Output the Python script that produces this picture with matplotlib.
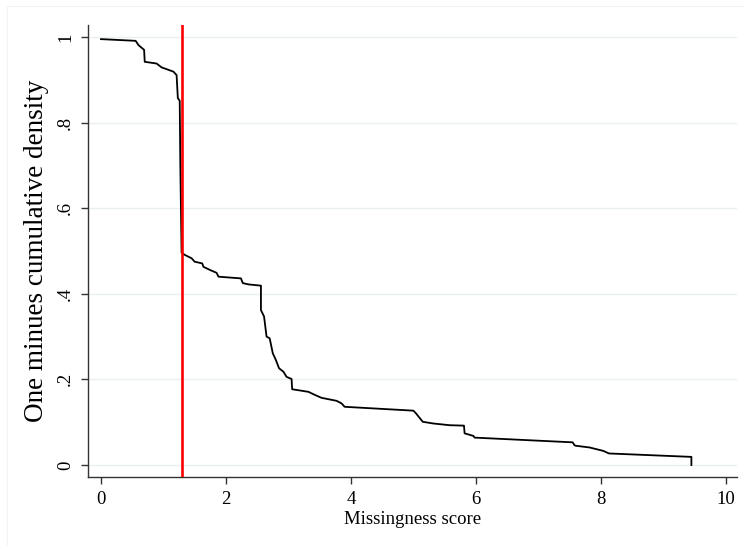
import matplotlib
matplotlib.use("Agg")
import matplotlib.pyplot as plt
from matplotlib.lines import Line2D

# Survival-style curve: one minus the cumulative density of the missingness score
score = [0.00, 0.555, 0.60, 0.69, 0.70, 0.89, 0.97, 1.16, 1.21, 1.23, 1.26, 1.27,
         1.29, 1.34, 1.45, 1.50, 1.62, 1.64, 1.74, 1.85, 1.88, 2.24, 2.27, 2.36,
         2.56, 2.56, 2.61, 2.65, 2.70, 2.75, 2.80, 2.85, 2.92, 2.97, 3.05, 3.06,
         3.32, 3.42, 3.53, 3.77, 3.85, 3.90, 5.00, 5.04, 5.15, 5.32, 5.58, 5.81,
         5.82, 5.96, 5.98, 7.55, 7.58, 7.60, 7.82, 8.04, 8.13, 9.45, 9.45]
one_minus_cdf = [0.995, 0.991, 0.981, 0.970, 0.942, 0.938, 0.929, 0.919, 0.911, 0.857,
                 0.851, 0.700, 0.496, 0.491, 0.483, 0.475, 0.471, 0.463, 0.456, 0.449,
                 0.440, 0.436, 0.425, 0.422, 0.419, 0.362, 0.347, 0.300, 0.296, 0.261,
                 0.245, 0.226, 0.218, 0.206, 0.201, 0.177, 0.171, 0.164, 0.157, 0.150,
                 0.144, 0.136, 0.127, 0.121, 0.101, 0.097, 0.093, 0.092, 0.074, 0.068,
                 0.064, 0.053, 0.046, 0.045, 0.041, 0.033, 0.027, 0.019, 0.0]
cutoff = 1.29

x_ticks = [0, 2, 4, 6, 8, 10]
y_ticks = [0, 0.2, 0.4, 0.6, 0.8, 1.0]
y_tick_labels = ["0", ".2", ".4", ".6", ".8", "1"]

plt.rcParams['font.family'] = ['Liberation Serif', 'DejaVu Serif']

fig = plt.figure(figsize=(7.45, 5.46), dpi=100)
ax = fig.add_axes([88 / 745, 69 / 546, 649 / 745, 452 / 546])

# faint outer frame on the left and top edges
fig.add_artist(Line2D([7 / 745, 7 / 745], [0, 1 - 6 / 546], color="#f1f4f6", lw=0.8,
                      transform=fig.transFigure))
fig.add_artist(Line2D([7 / 745, 1], [1 - 6 / 546, 1 - 6 / 546], color="#f1f4f6", lw=0.8,
                      transform=fig.transFigure))

ax.plot(score, one_minus_cdf, color="black", lw=1.3, zorder=3)
ax.axvline(cutoff, color="#ff0000", lw=1.9, zorder=4)

ax.set_xlim(-0.208, 10.18)
ax.set_ylim(-0.028, 1.028)

ax.set_xticks(x_ticks)
ax.set_xticklabels([str(t) for t in x_ticks], fontsize=13.5)
ax.set_yticks(y_ticks)
ax.set_yticklabels(y_tick_labels, fontsize=13.5, rotation=90, va="center")

ax.grid(axis="y", color="#eaf0f2", lw=1.0, zorder=0)
ax.set_axisbelow(True)

for side in ("top", "right"):
    ax.spines[side].set_visible(False)
for side in ("left", "bottom"):
    ax.spines[side].set_color("#333333")
    ax.spines[side].set_linewidth(1.0)
ax.tick_params(axis="both", direction="out", length=5, width=1.0, color="#333333", pad=5)

ax.set_xlabel("Missingness score", fontsize=13.5, labelpad=2)
ax.set_ylabel("One minues cumulative density", fontsize=19.5, labelpad=6)

fig.savefig("out.png", dpi=100, facecolor="white")
